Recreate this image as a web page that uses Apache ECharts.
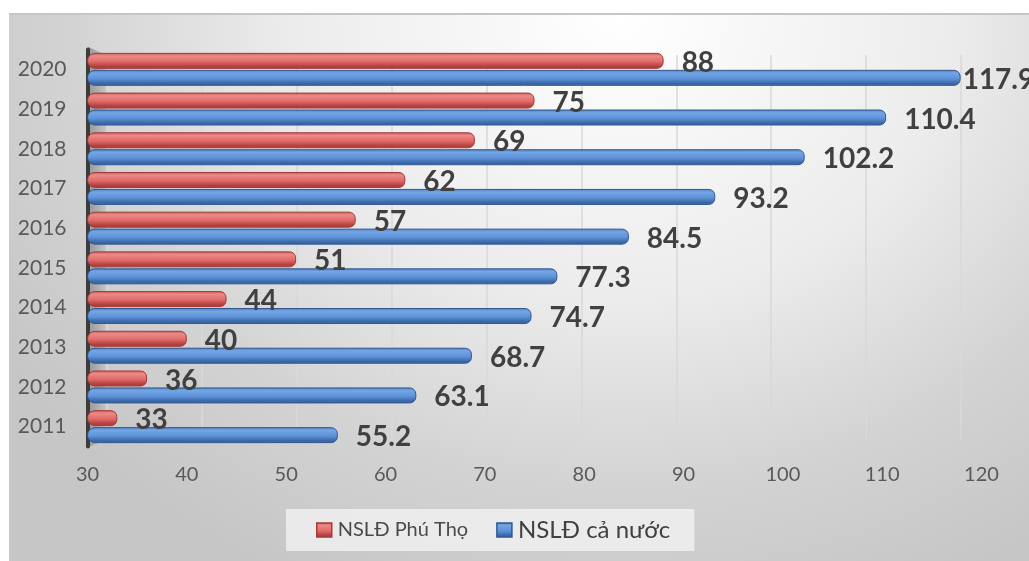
<!DOCTYPE html>
<html>
<head>
<meta charset="utf-8">
<script src="https://cdn.jsdelivr.net/npm/echarts@6/dist/echarts.min.js"></script>
<style>
  html, body { margin: 0; padding: 0; background: #ffffff; }
  #panel {
    position: absolute; left: 9px; top: 13px; right: 0; bottom: 0;
    border-top: 2px solid #c6c6c6;
    background: radial-gradient(ellipse 72% 115% at 60% 0%, #ffffff 0%, #ececec 45%, #d3d3d3 75%, #c6c6c6 100%);
  }
  #chart { position: absolute; left: 0; top: 0; width: 1029px; height: 561px; }
</style>
</head>
<body>
<div id="panel"></div>
<div id="chart"></div>
<script>
// Năng suất lao động: Phú Thọ so với cả nước, 2011–2020
const years = ['2011', '2012', '2013', '2014', '2015', '2016', '2017', '2018', '2019', '2020'];
const phuTho = [33, 36, 40, 44, 51, 57, 62, 69, 75, 88];
const caNuoc = [55.2, 63.1, 68.7, 74.7, 77.3, 84.5, 93.2, 102.2, 110.4, 117.9];
const seriesNames = ['NSLĐ Phú Thọ', 'NSLĐ cả nước'];
const axisMin = 30, axisMax = 120, axisStep = 10;

const FONT = 'Lato, "Open Sans", sans-serif';

// cylinder-like shading across the bar thickness
function tube(edgeTop, light, mid, edgeBottom) {
  return new echarts.graphic.LinearGradient(0, 0, 0, 1, [
    { offset: 0, color: edgeTop },
    { offset: 0.2, color: light },
    { offset: 0.55, color: mid },
    { offset: 0.85, color: edgeBottom },
    { offset: 1, color: edgeBottom }
  ]);
}

const valueLabel = {
  show: true,
  position: 'right',
  distance: 18,
  fontFamily: FONT,
  fontSize: 28,
  fontWeight: 'bold',
  color: '#404040',
  offset: [0, 2]
};

// the longest bar keeps its label close so it stays inside the panel
const caNuocData = caNuoc.map((v, i) =>
  i === caNuoc.length - 1 ? { value: v, label: { distance: 2 } } : v);

const chart = echarts.init(document.getElementById('chart'), null, { renderer: 'canvas' });

chart.setOption({
  animation: false,
  backgroundColor: 'transparent',
  grid: [
    { left: 87.5, right: 47.5, top: 49.5, bottom: 114.5 },
    // back-wall gridlines, seen in perspective
    { left: 107, right: 68, top: 55, bottom: 121 }
  ],
  legend: {
    data: seriesNames,
    left: 286,
    top: 509,
    orient: 'horizontal',
    icon: 'rect',
    itemWidth: 15,
    itemHeight: 14,
    itemGap: 28,
    padding: [9, 24, 9, 30],
    backgroundColor: 'rgba(244,244,244,0.75)',
    itemStyle: { borderWidth: 1.5 },
    formatter: name => name === seriesNames[1] ? '{b|' + name + '}' : '{a|' + name + '}',
    textStyle: {
      fontFamily: FONT,
      color: '#404040',
      rich: {
        a: { fontSize: 20, fontFamily: FONT, color: '#4a4a4a', padding: [0, 0, 0, 1] },
        b: { fontSize: 24, fontFamily: FONT, color: '#404040', padding: [0, 0, 0, 1] }
      }
    }
  },
  graphic: [{
    type: 'polygon',
    z: 0,
    shape: { points: [[88, 47], [107, 55], [107, 440], [88, 447]] },
    style: {
      fill: new echarts.graphic.LinearGradient(0, 0, 1, 0, [
        { offset: 0, color: '#969696' },
        { offset: 1, color: '#c8c8c8' }
      ])
    }
  }],
  xAxis: [{
    type: 'value',
    gridIndex: 0,
    min: axisMin,
    max: axisMax,
    interval: axisStep,
    axisLine: { show: false },
    axisTick: { show: false },
    splitLine: { show: false },
    axisLabel: { fontFamily: FONT, fontSize: 20, color: '#595959', margin: 18 }
  }, {
    type: 'value',
    gridIndex: 1,
    min: axisMin,
    max: axisMax,
    interval: axisStep,
    axisLine: { show: false },
    axisTick: { show: false },
    axisLabel: { show: false },
    splitLine: { show: true, lineStyle: { color: '#d8d8d8', width: 1.5 } }
  }],
  yAxis: [{
    type: 'category',
    gridIndex: 0,
    data: years,
    axisTick: { show: false },
    axisLine: { show: true, lineStyle: { color: '#3c3c3c', width: 4 } },
    axisLabel: { fontFamily: FONT, fontSize: 21, color: '#595959', margin: 21 }
  }, {
    type: 'value',
    gridIndex: 1,
    show: false,
    min: 0,
    max: 1
  }],
  series: [{
    name: seriesNames[0],
    type: 'bar',
    xAxisIndex: 0,
    yAxisIndex: 0,
    data: phuTho,
    barWidth: 16,
    barGap: '6%',
    itemStyle: {
      color: tube('#c85a58', '#ec8a88', '#e06a68', '#b0403e'),
      borderColor: '#a33a38',
      borderWidth: 1,
      borderRadius: [8, 6, 6, 8]
    },
    label: valueLabel
  }, {
    name: seriesNames[1],
    type: 'bar',
    xAxisIndex: 0,
    yAxisIndex: 0,
    data: caNuocData,
    barWidth: 16,
    barGap: '6%',
    itemStyle: {
      color: tube('#4f7fc2', '#74a6e6', '#5e92d8', '#3a67a6'),
      borderColor: '#31578e',
      borderWidth: 1,
      borderRadius: [8, 6, 6, 8]
    },
    label: valueLabel
  }]
});
</script>
</body>
</html>
